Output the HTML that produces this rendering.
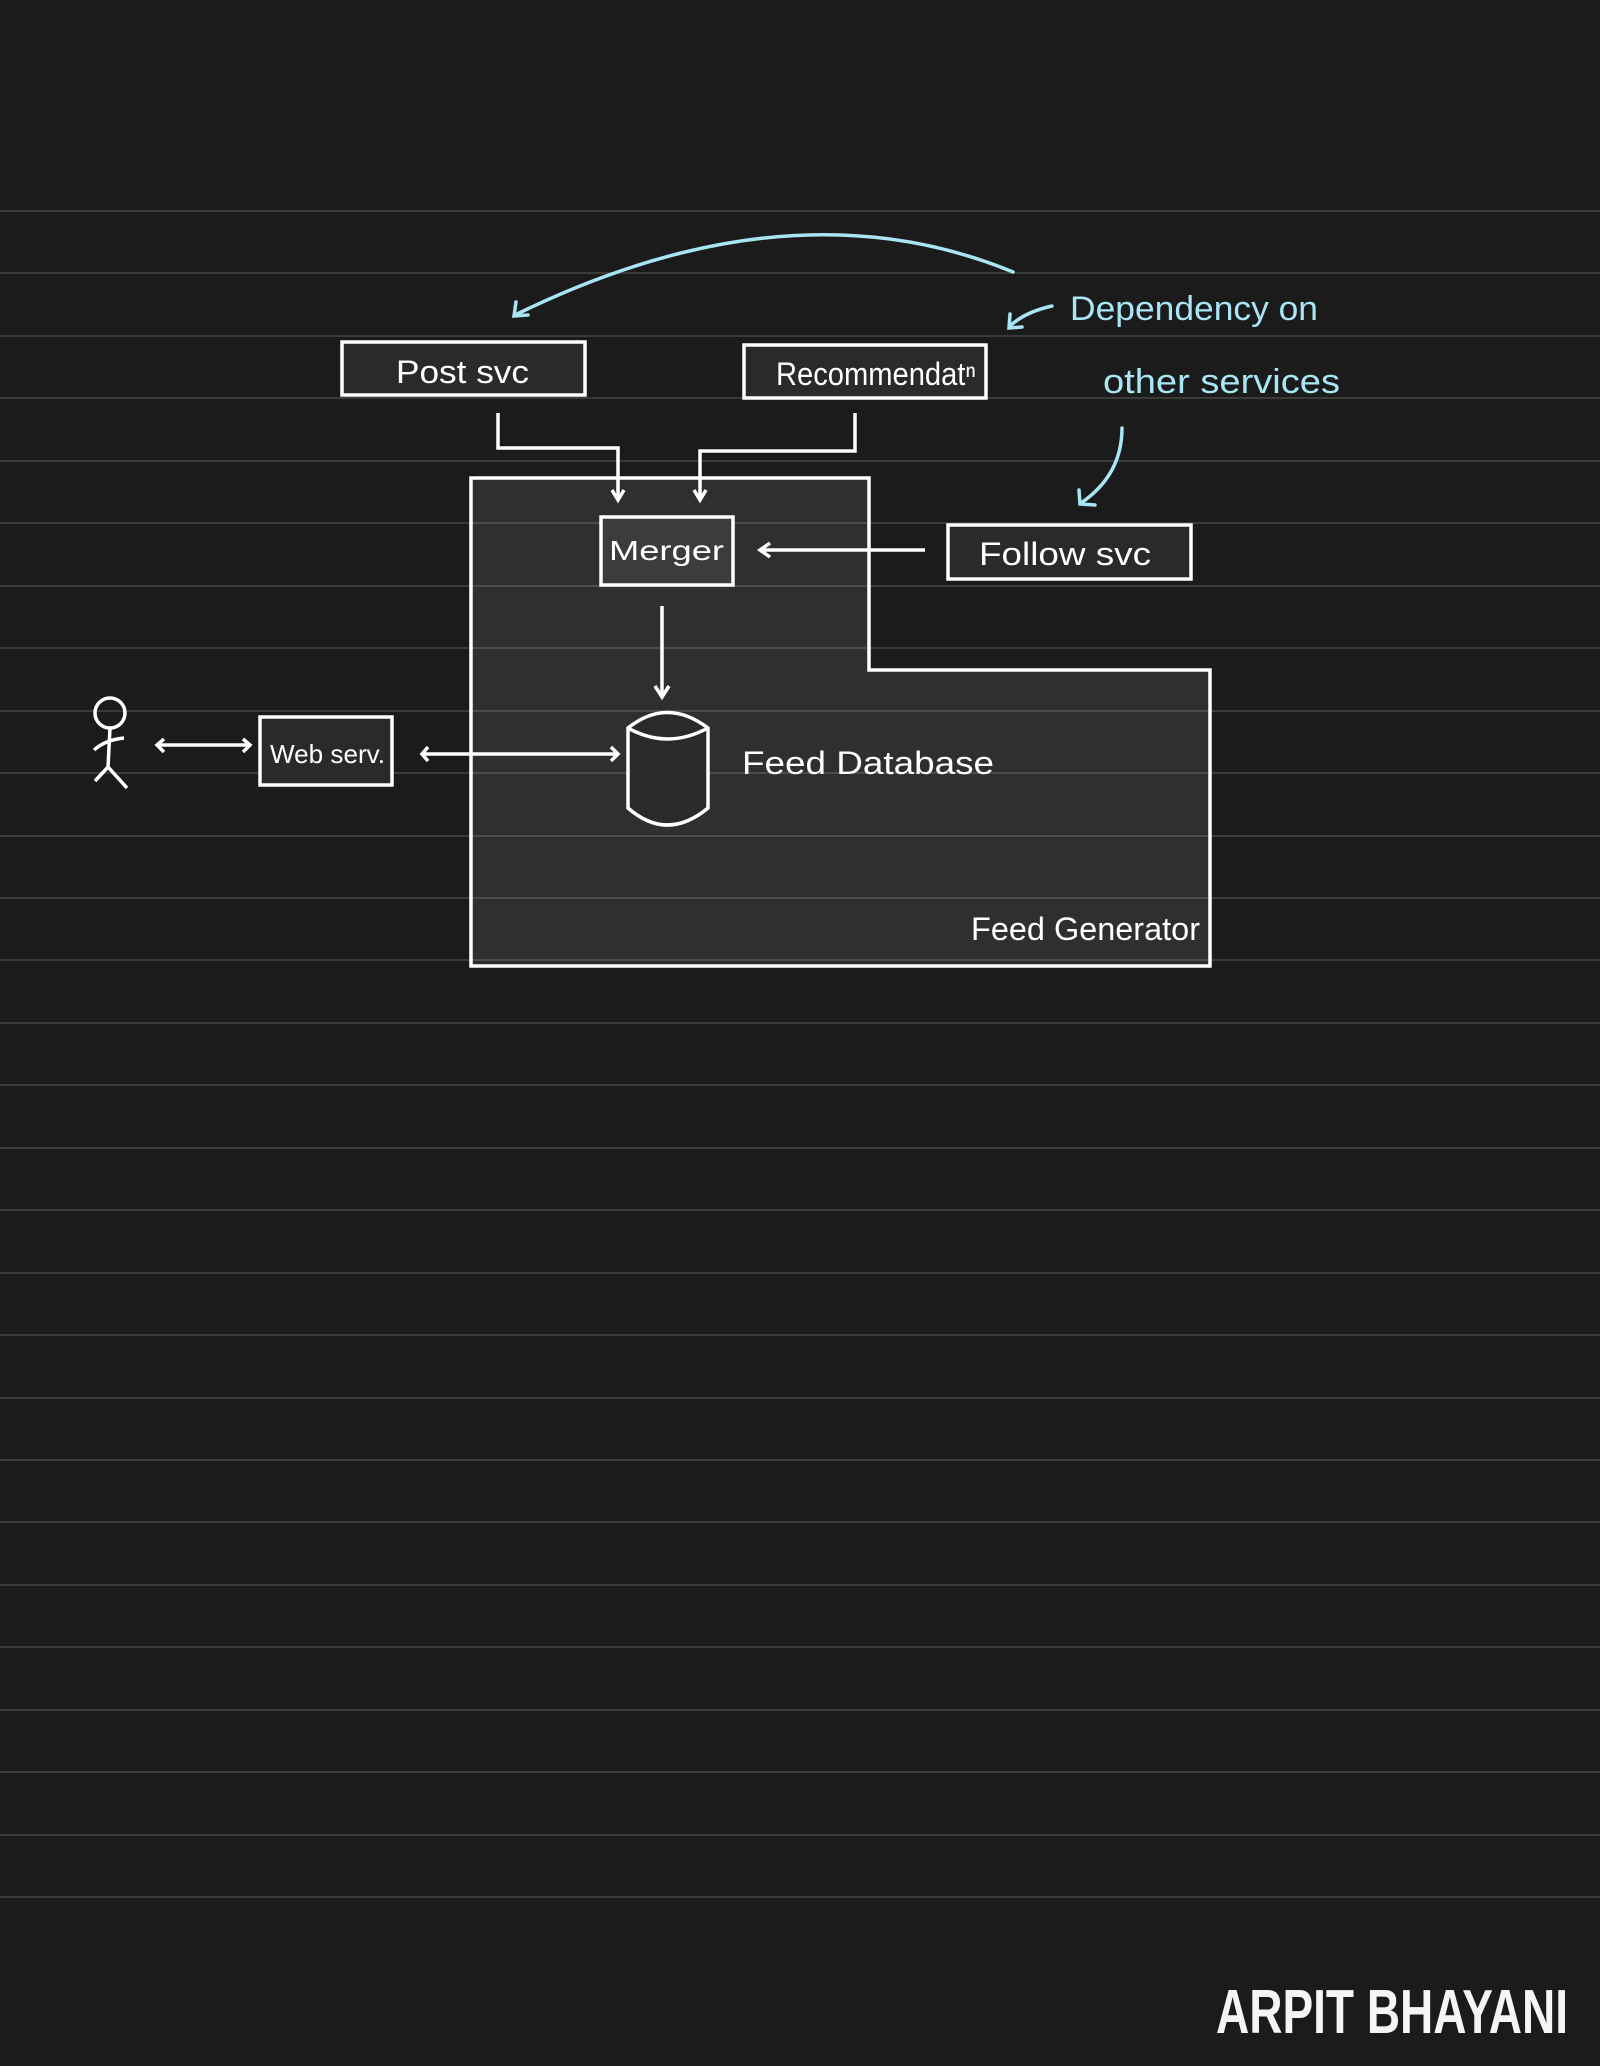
<!DOCTYPE html>
<html><head><meta charset="utf-8"><style>
html,body{margin:0;padding:0;background:#1b1b1b;}
svg{display:block}
text{font-family:"Liberation Sans",sans-serif;}
</style></head><body>
<svg width="1600" height="2066" viewBox="0 0 1600 2066" xmlns="http://www.w3.org/2000/svg">
<rect width="1600" height="2066" fill="#1b1b1b"/>
<g stroke="#3b3b3b" stroke-width="2">
<line x1="0" y1="211" x2="1600" y2="211"/><line x1="0" y1="273" x2="1600" y2="273"/><line x1="0" y1="336" x2="1600" y2="336"/><line x1="0" y1="398" x2="1600" y2="398"/><line x1="0" y1="461" x2="1600" y2="461"/><line x1="0" y1="523" x2="1600" y2="523"/><line x1="0" y1="586" x2="1600" y2="586"/><line x1="0" y1="648" x2="1600" y2="648"/><line x1="0" y1="711" x2="1600" y2="711"/><line x1="0" y1="773" x2="1600" y2="773"/><line x1="0" y1="836" x2="1600" y2="836"/><line x1="0" y1="898" x2="1600" y2="898"/><line x1="0" y1="960" x2="1600" y2="960"/><line x1="0" y1="1023" x2="1600" y2="1023"/><line x1="0" y1="1085" x2="1600" y2="1085"/><line x1="0" y1="1148" x2="1600" y2="1148"/><line x1="0" y1="1210" x2="1600" y2="1210"/><line x1="0" y1="1273" x2="1600" y2="1273"/><line x1="0" y1="1335" x2="1600" y2="1335"/><line x1="0" y1="1398" x2="1600" y2="1398"/><line x1="0" y1="1460" x2="1600" y2="1460"/><line x1="0" y1="1522" x2="1600" y2="1522"/><line x1="0" y1="1585" x2="1600" y2="1585"/><line x1="0" y1="1647" x2="1600" y2="1647"/><line x1="0" y1="1710" x2="1600" y2="1710"/><line x1="0" y1="1772" x2="1600" y2="1772"/><line x1="0" y1="1835" x2="1600" y2="1835"/><line x1="0" y1="1897" x2="1600" y2="1897"/>
</g>
<polygon points="471,478 869,478 869,670 1210,670 1210,966 471,966" fill="rgba(255,255,255,0.09)" stroke="#fff" stroke-width="3.5"/>
<g fill="none" stroke="#fff" stroke-width="3.5">
<rect x="342" y="342" width="243" height="53" fill="#2a2a2a"/>
<rect x="744" y="345" width="242" height="53" fill="#2a2a2a"/>
<rect x="601" y="517" width="132" height="68" fill="#3c3c3c"/>
<rect x="948" y="525" width="243" height="54" fill="#2a2a2a"/>
<rect x="260" y="717" width="132" height="68" fill="#2a2a2a"/>
<polyline points="498,413 498,448 618,448 618,500"/><polyline points="612,490 618,500 624,490"/>
<polyline points="855,413 855,451 700,451 700,500"/><polyline points="694,490 700,500 706,490"/>
<line x1="925" y1="550" x2="760" y2="550"/><polyline points="770,543 760,550 770,557"/>
<line x1="662" y1="606" x2="662" y2="696"/><polyline points="655,686 662,697 669,686"/>
<line x1="424" y1="754" x2="617" y2="754"/><polyline points="428,747 422,754 428,761"/><polyline points="611,747 618,754 611,761"/>
<line x1="158" y1="745" x2="249" y2="745"/><polyline points="164,739 157,745 164,752"/><polyline points="243,739 250,745 243,752"/>
<path d="M628,728 Q667,697 708,728 L708,808 Q667,842 628,808 Z" fill="#2a2a2a"/>
<path d="M628,728 Q667,750 708,728"/>
<circle cx="110" cy="713" r="15"/>
<line x1="110" y1="728" x2="108" y2="767"/>
<path d="M94,750 Q105,740 124,738"/>
<path d="M95,781 L108,767 L127,788"/>
</g>
<g fill="none" stroke="#a8e6f5" stroke-width="3.5" stroke-linecap="round">
<path d="M1013,272 Q790,180 515,315"/><polyline points="516,302 514,316 528,315"/>
<path d="M1052,306 Q1025,312 1010,326"/><polyline points="1010,314 1009,328 1022,327"/>
<path d="M1122,428 Q1122,475 1081,503"/><polyline points="1079,490 1080,504 1095,505"/>
</g>
<g fill="#a8e6f5" font-size="34">
<text x="1070" y="320" textLength="248" lengthAdjust="spacingAndGlyphs">Dependency on</text>
<text x="1103" y="393" textLength="237" lengthAdjust="spacingAndGlyphs">other services</text>
</g>
<g fill="#fff" font-size="32">
<text x="396" y="383" textLength="133" lengthAdjust="spacingAndGlyphs">Post svc</text>
<text x="776" y="385" textLength="200" lengthAdjust="spacingAndGlyphs">Recommendatⁿ</text>
<text x="609" y="560" font-size="28" textLength="115" lengthAdjust="spacingAndGlyphs">Merger</text>
<text x="979" y="565" textLength="172" lengthAdjust="spacingAndGlyphs">Follow svc</text>
<text x="270" y="763" font-size="26" textLength="115" lengthAdjust="spacingAndGlyphs">Web serv.</text>
<text x="742" y="774" textLength="252" lengthAdjust="spacingAndGlyphs">Feed Database</text>
<text x="971" y="940" textLength="229" lengthAdjust="spacingAndGlyphs">Feed Generator</text>
</g>
<text x="1216" y="2033" fill="#f5f5f5" font-size="62" font-weight="bold" textLength="352" lengthAdjust="spacingAndGlyphs">ARPIT BHAYANI</text>
</svg>
</body></html>
